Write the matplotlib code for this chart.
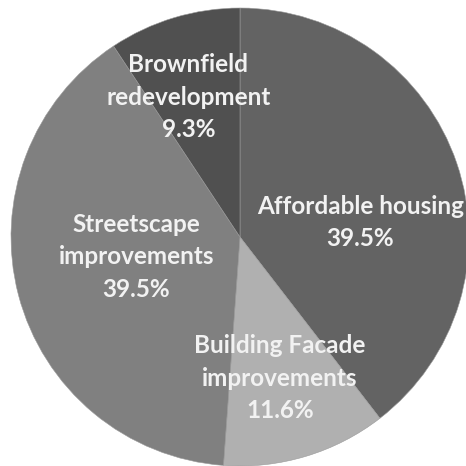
import matplotlib.pyplot as plt
import numpy as np

categories = ['Affordable housing', 'Building Facade\nimprovements',
              'Streetscape\nimprovements', 'Brownfield\nredevelopment']
shares = [39.5, 11.6, 39.5, 9.3]
colors = ['#636363', '#b0b0b0', '#808080', '#505050']

# label placement (fraction of radius, angle nudge in degrees)
label_r = [0.53, 0.64, 0.46, 0.65]
label_shift = [-12, -1, -4, 3.5]

plt.rcParams['font.family'] = ['Lato', 'DejaVu Sans']

fig = plt.figure(figsize=(4.66, 4.66), dpi=100)
ax = fig.add_axes([11 / 466, 0, 458 / 466, 458 / 466])

wedges, _ = ax.pie(shares, colors=colors, startangle=90, counterclock=False,
                   wedgeprops=dict(edgecolor='#9a9a9a', linewidth=0.4))
for w in wedges:
    w.set_clip_on(False)

for w, name, val, r, d in zip(wedges, categories, shares, label_r, label_shift):
    ang = np.deg2rad((w.theta1 + w.theta2) / 2 + d)
    ax.text(r * np.cos(ang), r * np.sin(ang), f'{name}\n{val:.1f}%',
            ha='center', va='center', color='#f2f2f2', fontsize=17.5,
            fontweight='bold', linespacing=1.5)

ax.set_xlim(-1, 1)
ax.set_ylim(-1, 1)
ax.set_aspect('equal')
ax.axis('off')

fig.savefig('out.png', dpi=100)
